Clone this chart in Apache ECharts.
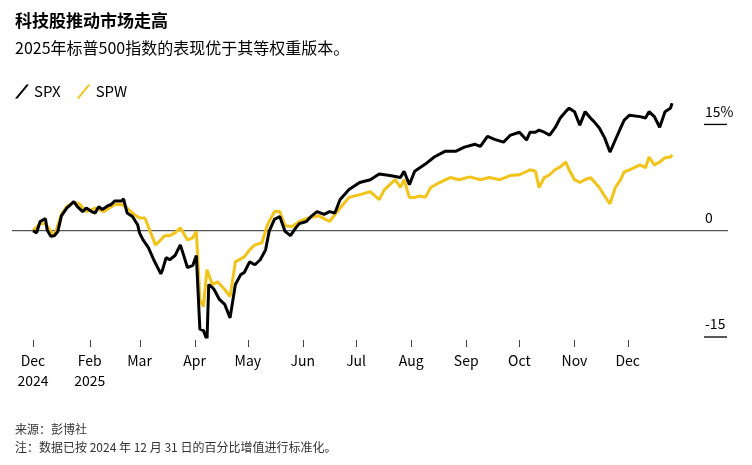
<!DOCTYPE html>
<html><head><meta charset="utf-8">
<script src="https://cdn.jsdelivr.net/npm/echarts@6/dist/echarts.min.js"></script>
<style>html,body{margin:0;padding:0;background:#fff}#c{width:752px;height:465px}</style>
</head><body><div id="c"></div>
<script>
// day offset from 2024-12-31, value in %
const spxDays=[0,2,4,7,8,10,12,14,16,19,23,25,28,30,33,35,37,39,42,44,46,50,51,53,56,59,60,62,65,68,72,73,75,77,80,83,87,90,92,94,96,98,99,101,102,105,108,111,114,117,119,122,125,128,131,133,136,139,142,145,148,150,154,157,160,164,167,170,173,178,184,190,195,201,207,209,212,215,221,226,232,238,243,249,252,256,260,265,269,274,278,280,283,285,288,291,294,297,300,302,305,308,311,314,316,319,322,325,328,331,333,336,342,345,347,350,353,356,359,360];
const spxVals=[0,-0.3,1.3,1.7,0.1,-0.8,-0.7,-0.1,2.1,3.2,4.1,3.4,2.7,3.2,2.7,2.5,3.4,3.0,3.5,3.7,4.2,4.2,4.5,2.5,2.0,0.8,-0.3,-1.3,-2.4,-4.1,-6.1,-5.5,-3.8,-4.1,-3.5,-2.0,-5.2,-4.9,-3.5,-13.9,-14.1,-15.4,-7.6,-8.0,-8.3,-9.7,-10.4,-12.3,-7.6,-6.2,-5.9,-4.4,-4.8,-4.1,-2.7,-0.1,1.6,2.0,-0.1,-0.7,0.4,1.0,1.3,2.1,2.7,2.3,2.7,2.5,4.4,5.8,6.8,7.2,8.0,7.8,7.5,8.4,6.5,8.4,9.4,10.4,11.2,11.2,11.8,12.2,11.9,13.3,12.9,12.5,13.5,13.9,12.8,13.9,13.9,14.2,13.9,13.5,14.5,15.9,16.8,17.3,16.8,14.9,16.8,15.9,15.4,14.5,13.1,11.1,12.8,14.5,15.6,16.3,16.1,15.9,16.8,16.1,14.6,16.8,17.3,18.0];
const spwDays=[0,4,7,10,12,16,19,23,26,30,35,40,46,50,53,57,60,63,66,69,72,74,77,80,83,87,90,92,94,96,98,101,104,108,111,114,119,122,125,129,132,136,139,142,146,150,155,161,167,173,178,184,190,195,198,204,207,209,212,215,218,221,224,229,235,240,246,252,257,263,269,274,280,283,285,288,291,294,297,300,302,305,308,311,314,319,322,325,328,331,333,336,342,345,347,350,353,356,359,360];
const spwVals=[0,1.0,1.0,-0.1,-0.7,2.3,3.4,4.0,3.8,2.7,3.2,2.7,3.7,3.7,3.2,2.3,1.8,1.8,-0.1,-2.0,-1.3,-0.7,-0.7,-0.3,0.4,-1.3,-1.0,-0.1,-9.7,-10.7,-5.5,-7.6,-7.2,-8.3,-9.3,-4.4,-3.7,-2.7,-2.0,-1.7,0.8,2.7,2.7,0.7,0.6,1.3,1.8,2.1,1.3,3.2,4.7,5.1,5.5,4.4,5.8,7.2,6.1,7.2,4.7,4.7,4.9,4.7,6.1,6.8,7.5,7.2,7.6,7.2,7.5,7.2,7.8,7.9,8.6,8.4,6.1,7.5,7.9,8.6,9.0,9.7,8.6,7.2,6.8,7.2,7.5,6.1,4.9,3.8,6.1,7.2,8.3,8.6,9.3,8.9,10.4,9.3,9.7,10.3,10.4,10.7];
const tickDays=[0,32,60,91,121,152,182,213,244,274,305,335];
const tickLabels=['Dec\n2024','Feb\n2025','Mar','Apr','May','Jun','Jul','Aug','Sep','Oct','Nov','Dec'];
const yTicks=[15,0,-15];
const yLabels={'15':'15%','0':'0','-15':'-15'};

const zip=(a,b)=>a.map((d,i)=>[d,b[i]]);
const chart=echarts.init(document.getElementById('c'));
const F='"Noto Sans CJK SC","Noto Sans",sans-serif';
chart.setOption({
  animation:false,
  textStyle:{fontFamily:F},
  title:[
    {text:'科技股推动市场走高',left:10,top:7,textStyle:{fontSize:17,fontWeight:'bold',color:'#000',fontFamily:F}},
    {text:'2025年标普500指数的表现优于其等权重版本。',left:10,top:35,textStyle:{fontSize:16,fontWeight:'normal',color:'#000',fontFamily:F}},
    {text:'来源：彭博社',left:10,top:418,textStyle:{fontSize:12,fontWeight:'normal',color:'#333',fontFamily:F}},
    {text:'注：数据已按 2024 年 12 月 31 日的百分比增值进行标准化。',left:10,top:436,textStyle:{fontSize:12,fontWeight:'normal',color:'#333',fontFamily:F}}
  ],
  legend:{left:10,top:79,itemWidth:14,itemHeight:14,itemGap:16,icon:'path://M0,14 L2.5,14 L14,0 L11.5,0 Z',
    textStyle:{fontSize:15,color:'#000',fontFamily:F},data:['SPX','SPW']},
  grid:{left:33,right:71,top:89,bottom:128},
  xAxis:{type:'value',min:0,max:365,
    axisLine:{show:false},splitLine:{show:false},axisTick:{show:false},
    axisLabel:{customValues:tickDays,formatter:v=>tickLabels[tickDays.indexOf(v)],fontSize:14,color:'#000',lineHeight:20,margin:14,fontFamily:F}},
  yAxis:{type:'value',position:'right',min:-15,max:20,
    axisLine:{show:false},axisTick:{show:false},splitLine:{show:false},
    axisLabel:{customValues:yTicks,formatter:v=>yLabels[String(v)],fontSize:14,color:'#000',margin:24,verticalAlign:'bottom',padding:[0,0,6,0],fontFamily:F}},
  series:[
    {name:'SPX',type:'line',data:zip(spxDays,spxVals),showSymbol:false,z:3,lineStyle:{color:'#000',width:3},itemStyle:{color:'#000'}},
    {name:'SPW',type:'line',data:zip(spwDays,spwVals),showSymbol:false,z:2,lineStyle:{color:'#f2c318',width:3},itemStyle:{color:'#f2c318'}}
  ]
});
const g=[];
const y0=chart.convertToPixel({yAxisIndex:0},0);
const yb=chart.convertToPixel({yAxisIndex:0},-15);
g.push({type:'line',shape:{x1:12,y1:y0,x2:728,y2:y0},style:{stroke:'#555',lineWidth:1.3},z:1});
yTicks.forEach(t=>{const y=chart.convertToPixel({yAxisIndex:0},t);
  if(t!==0)g.push({type:'line',shape:{x1:704,y1:y,x2:727,y2:y},style:{stroke:'#000',lineWidth:1.3}});});
tickDays.forEach(d=>{const x=Math.round(chart.convertToPixel({xAxisIndex:0},d))+0.5;
  g.push({type:'line',shape:{x1:x,y1:yb+3,x2:x,y2:yb+10},style:{stroke:'#444',lineWidth:1}});});
chart.setOption({graphic:g});
</script></body></html>
